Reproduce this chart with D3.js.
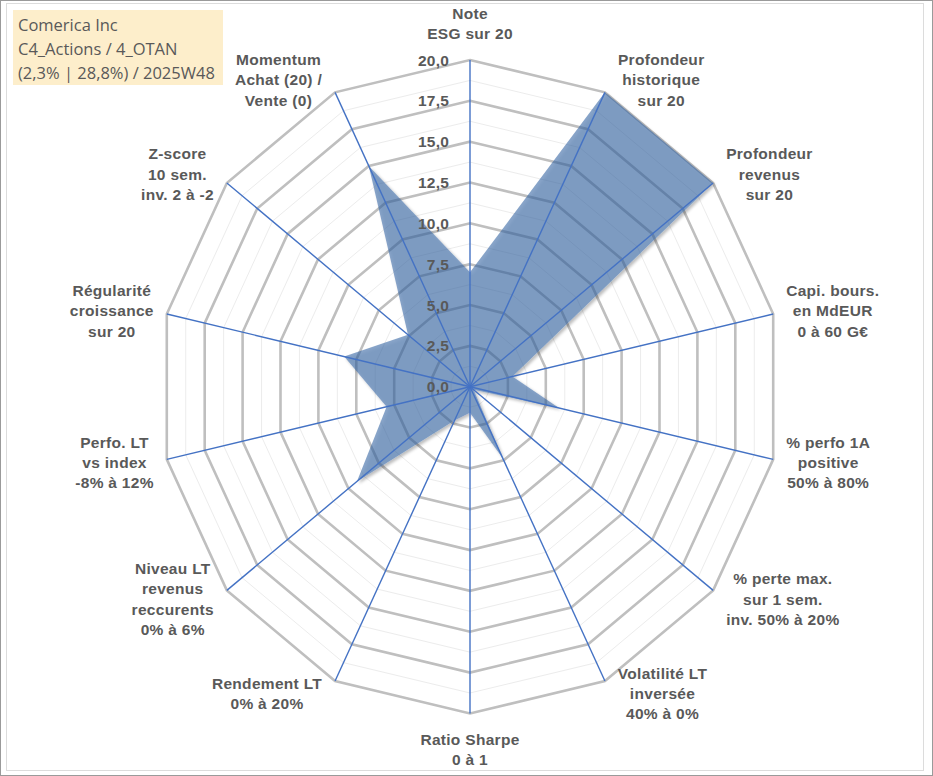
<!DOCTYPE html>
<html>
<head>
<meta charset="utf-8">
<script src="https://cdn.jsdelivr.net/npm/d3@7"></script>
<style>
  html, body { margin: 0; padding: 0; background: #fff; }
  svg { display: block; }
</style>
</head>
<body>
<svg id="chart" width="933" height="776"></svg>
<script>
// ---------- data ----------
const categories = [
  "Note\nESG sur 20",
  "Profondeur\nhistorique\nsur 20",
  "Profondeur\nrevenus\nsur 20",
  "Capi. bours.\nen MdEUR\n0 à 60 G€",
  "% perfo 1A\npositive\n50% à 80%",
  "% perte max.\nsur 1 sem.\ninv. 50% à 20%",
  "Volatilité LT\ninversée\n40% à 0%",
  "Ratio Sharpe\n0 à 1",
  "Rendement LT\n0% à 20%",
  "Niveau LT\nrevenus\nreccurents\n0% à 6%",
  "Perfo. LT\nvs index\n-8% à 12%",
  "Régularité\ncroissance\nsur 20",
  "Z-score\n10 sem.\ninv. 2 à -2",
  "Momentum\nAchat (20) /\nVente (0)"
];
const seriesValues = [7.0, 20.0, 20.0, 2.8, 5.9, 0.3, 4.9, 1.6, 2.3, 9.3, 5.5, 8.3, 5.1, 15.0];
const majorTicks = [0, 2.5, 5, 7.5, 10, 12.5, 15, 17.5, 20];
const minorTicks = [1.25, 3.75, 6.25, 8.75, 11.25, 13.75, 16.25, 18.75];
const titleLines = ["Comerica Inc", "C4_Actions / 4_OTAN", "(2,3% | 28,8%) / 2025W48"];

// ---------- layout ----------
const W = 933, H = 776;
const cx = 470, cy = 386.7;
const rX = 311, rY = 326.7;

const svg = d3.select("#chart");
const frLocale = d3.formatLocale({decimal: ",", thousands: " ", grouping: [3], currency: ["", " €"]});
const fmt = frLocale.format(".1f");

const n = categories.length;
const angle = d3.scaleLinear().domain([0, n]).range([0, 2 * Math.PI]);
const sx = d3.scaleLinear().domain([0, 20]).range([0, rX]);
const sy = d3.scaleLinear().domain([0, 20]).range([0, rY]);

function pt(i, v) {
  const a = angle(i);
  return [cx + sx(v) * Math.sin(a), cy - sy(v) * Math.cos(a)];
}

// frame
svg.append("rect").attr("x", 0.5).attr("y", 0.5).attr("width", W - 1).attr("height", H - 1)
  .attr("fill", "#fff").attr("stroke", "#9a9a9a").attr("stroke-width", 1);
svg.append("rect").attr("x", 6.5).attr("y", 3.5).attr("width", 917).attr("height", 767)
  .attr("fill", "none").attr("stroke", "#dcdcdc").attr("stroke-width", 1);

// defs: outer-only shadow
const defs = svg.append("defs");
const f = defs.append("filter").attr("id", "shadow").attr("x", "-10%").attr("y", "-10%").attr("width", "120%").attr("height", "120%");
f.append("feGaussianBlur").attr("in", "SourceAlpha").attr("stdDeviation", 1.6).attr("result", "blur");
f.append("feOffset").attr("in", "blur").attr("dx", 1.5).attr("dy", 1.5).attr("result", "off");
f.append("feComposite").attr("in", "off").attr("in2", "SourceAlpha").attr("operator", "out").attr("result", "outer");
f.append("feColorMatrix").attr("in", "outer").attr("type", "matrix")
  .attr("values", "0 0 0 0 0  0 0 0 0 0  0 0 0 0 0  0 0 0 0.45 0").attr("result", "sh");
const m = f.append("feMerge");
m.append("feMergeNode").attr("in", "sh");
m.append("feMergeNode").attr("in", "SourceGraphic");

const ring = v => d3.range(n).map(i => pt(i, v));
const polyLine = d3.line().curve(d3.curveLinearClosed);

// minor rings
svg.append("g").selectAll("path").data(minorTicks).join("path")
  .attr("d", v => polyLine(ring(v)))
  .attr("fill", "none").attr("stroke", "#ececec").attr("stroke-width", 1);

// major rings
svg.append("g").selectAll("path").data(majorTicks.filter(v => v > 0)).join("path")
  .attr("d", v => polyLine(ring(v)))
  .attr("fill", "none").attr("stroke", "#bfbfbf").attr("stroke-width", 2.6)
  .attr("stroke-linejoin", "miter");

// series polygon
svg.append("path")
  .datum(seriesValues.map((v, i) => pt(i, v)))
  .attr("d", polyLine)
  .attr("fill", "rgb(45,95,160)").attr("fill-opacity", 0.57)
  .attr("stroke", "none")
  .attr("filter", "url(#shadow)");

// radial axes
svg.append("g").selectAll("line").data(d3.range(n)).join("line")
  .attr("x1", cx).attr("y1", cy)
  .attr("x2", i => pt(i, 20)[0]).attr("y2", i => pt(i, 20)[1])
  .attr("stroke", "#4472c4").attr("stroke-width", 1.4);

// tick labels
svg.append("g").selectAll("text").data(majorTicks).join("text")
  .attr("x", cx - 21).attr("y", v => cy - sy(v))
  .attr("text-anchor", "end").attr("dominant-baseline", "central")
  .attr("font-family", "'Liberation Sans', Arial, sans-serif")
  .attr("font-weight", "bold").attr("font-size", 15.5)
  .attr("letter-spacing", 0.2)
  .attr("fill", "#595959")
  .text(v => fmt(v));

// category labels
const lineH = 20.3;
const lab = svg.append("g")
  .attr("font-family", "'Liberation Sans', Arial, sans-serif")
  .attr("font-weight", "bold").attr("font-size", 15.5)
  .attr("letter-spacing", 0.3)
  .attr("fill", "#595959");

categories.forEach((c, i) => {
  const lines = c.split("\n");
  const a = angle(i);
  const s = Math.sin(a), co = Math.cos(a);
  const [ex, ey] = pt(i, 20);
  const t = lab.append("text").attr("text-anchor", "middle");
  const spans = lines.map(l => t.append("tspan").attr("dominant-baseline", "central").text(l));
  let w = 0;
  spans.forEach(sp => { w = Math.max(w, sp.node().getComputedTextLength()); });
  const h = lines.length * lineH;
  let lx, ly;
  if (Math.abs(s) < 0.01) {
    lx = ex;
    ly = ey - Math.sign(co) * (h / 2 + 16);
  } else {
    lx = ex + Math.sign(s) * (w / 2 + 13);
    ly = ey - 14 * co;
  }
  spans.forEach((sp, k) => {
    sp.attr("x", lx).attr("y", ly + (k - (lines.length - 1) / 2) * lineH);
  });
});

// title box
const tb = svg.append("g");
tb.append("rect").attr("x", 13).attr("y", 10).attr("width", 210).attr("height", 75)
  .attr("fill", "#fdeecb");
tb.selectAll("text").data(titleLines).join("text")
  .attr("x", 18).attr("y", (d, k) => 24 + k * 24)
  .attr("dominant-baseline", "central")
  .attr("font-family", "'Open Sans', sans-serif")
  .attr("font-size", 16.5)
  .attr("fill", "#595959")
  .text(d => d);
</script>
</body>
</html>
